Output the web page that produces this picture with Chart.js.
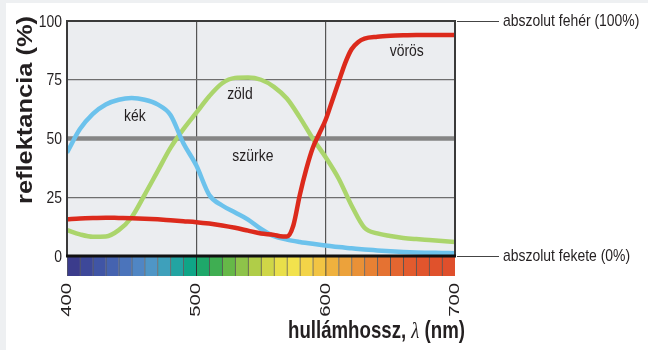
<!DOCTYPE html>
<html><head><meta charset="utf-8">
<script src="https://cdn.jsdelivr.net/npm/chart.js@4"></script>
<style>html,body{margin:0;padding:0;background:#fff}#wrap{width:648px;height:350px}</style>
</head><body><div id="wrap"><canvas id="c" width="648" height="350"></canvas></div>
<script>
// ---- data ----
const wavelengths = [400,410,420,430,440,450,460,470,480,490,500,510,520,530,540,550,560,570,580,590,600,610,620,630,640,650,660,670,680,690,700];
const blueValues  = [44,54,60.5,64.5,66.5,67.2,66.5,64.5,60,48,38.5,26,21.5,18.5,15.5,11.5,8.5,7,6,5.2,4.5,3.8,3.3,2.8,2.4,2,1.7,1.5,1.4,1.3,1.2];
const greenValues = [11,9.2,8.2,8.3,11,16.5,26,36,46,54,61,68,73.5,75.8,76,75,72,67,59,50,42,33,21.5,12,9.6,8.5,7.7,7.2,6.8,6.4,6];
const redWavelengths = [400,410,420,430,440,450,460,470,480,490,500,510,520,530,540,550,560,565,570,575,580,585,590,595,600,605,610,615,620,625,630,640,650,660,670,680,690,700];
const redValues   = [15.6,16,16.2,16.3,16.2,16.1,15.9,15.6,15.2,14.8,14.4,13.8,13,12,10.8,9.6,9,8.4,8.3,13,26,37,46,52,58,66,74,82,88,91,92.5,93.3,93.7,93.9,94,94,94,94];
const grayWavelengths = [400,700];
const grayValues = [50,50];
const spectrumStarts = [400,410,420,430,440,450,460,470,480,490,500,510,520,530,540,550,560,570,580,590,600,610,620,630,640,650,660,670,680,690];
const spectrumColors = ['#3b3c8c','#3d4899','#4055a5','#4563b0','#4b74bb','#5086c4','#4f96c6','#3ea0bb','#22a4a2','#0fa587','#1ea86a','#3fae52','#66b848','#8ec34a','#b0cd48','#cfd647','#e9df4a','#f2e24d','#f3d448','#f2c443','#efb13e','#eca23b','#e99137','#e78134','#e57232','#e46630','#e25b2e','#e1552d','#e0522c','#df4f2c'];
const xTicks = [400,500,600,700];
const yTicks = [0,25,50,75,100];
const curveNames = ['kék','zöld','szürke','vörös'];
const curveNameX = [452.5,533.7,543.7,662.7];
const curveNameY = [59.6,69,42.6,87.2];
const refNames = ['abszolut fehér (100%)','abszolut fekete (0%)'];
const refLevels = [100,0];
const xTitle = ['hullámhossz, ','λ',' (nm)'];
const yTitle = 'reflektancia (%)';

const TXT = '#231f20';
const SANS = '"Liberation Sans",Arial,sans-serif';
const pts = (xs, ys) => xs.map((v,i)=>({x:v,y:ys[i]}));

function narrowText(ctx, s, px, py, align, sx){
  ctx.save(); ctx.translate(px,py); ctx.scale(sx,1); ctx.textAlign=align; ctx.fillText(s,0,0); ctx.restore();
}

const deco = {
  id:'deco',
  beforeDraw(chart){
    const {ctx, scales:{x,y}} = chart;
    ctx.save();
    ctx.fillStyle='#eef0f2'; ctx.fillRect(0,0,chart.width,chart.height);
    ctx.fillStyle='#ffffff'; ctx.fillRect(6,3,chart.width-6,chart.height-3);
    const l=x.getPixelForValue(400), r=x.getPixelForValue(700), t=y.getPixelForValue(100), b=y.getPixelForValue(0);
    ctx.fillStyle='#ebedf0'; ctx.fillRect(l,t,r-l,b-t);
    ctx.restore();
  },
  afterDatasetsDraw(chart){
    const {ctx, scales:{x,y}} = chart;
    const l=x.getPixelForValue(400), r=x.getPixelForValue(700), t=y.getPixelForValue(100), b=y.getPixelForValue(0);
    ctx.save();
    // frame
    ctx.strokeStyle='#3a3a3a'; ctx.lineWidth=2;
    ctx.beginPath(); ctx.moveTo(l,b); ctx.lineTo(l,t); ctx.lineTo(r,t); ctx.lineTo(r,b); ctx.stroke();
    ctx.strokeStyle='#111'; ctx.lineWidth=3;
    ctx.beginPath(); ctx.moveTo(l-1,b); ctx.lineTo(r+1,b); ctx.stroke();
    // reference annotations
    ctx.strokeStyle='#444'; ctx.lineWidth=1.2;
    ctx.fillStyle=TXT; ctx.font='17px '+SANS; ctx.textBaseline='middle';
    refNames.forEach((s,i)=>{
      const py=Math.round(y.getPixelForValue(refLevels[i]))+0.5;
      ctx.beginPath(); ctx.moveTo(r+2,py); ctx.lineTo(r+44,py); ctx.stroke();
      narrowText(ctx, s, r+48, py, 'left', 0.82);
    });
    // curve names
    curveNames.forEach((s,i)=>narrowText(ctx, s, x.getPixelForValue(curveNameX[i]), y.getPixelForValue(curveNameY[i]), 'center', 0.82));
    // y tick labels
    y.ticks.forEach(tk=>narrowText(ctx, String(tk.value), l-5, y.getPixelForValue(tk.value)+1, 'right', 0.82));
    // x tick labels (rotated)
    ctx.font='15px '+SANS;
    ctx.textAlign='right'; ctx.textBaseline='middle';
    const yb = y.getPixelForValue(y.min);
    xTicks.forEach(v=>{
      ctx.save(); ctx.translate(x.getPixelForValue(v), yb+7); ctx.rotate(-Math.PI/2); ctx.scale(1.35,1);
      ctx.fillText(String(v),0,0); ctx.restore();
    });
    // x title
    const fb='bold 24px '+SANS, fi='italic 24px "Liberation Serif",serif';
    ctx.textAlign='left'; ctx.textBaseline='alphabetic';
    const fonts=[fb,fi,fb];
    let w=0; const ws=xTitle.map((s,i)=>{ctx.font=fonts[i]; const m=ctx.measureText(s).width; w+=m; return m;});
    const target=177, sx=target/w;
    ctx.save(); ctx.translate(288,338); ctx.scale(sx,1);
    let cx=0; xTitle.forEach((s,i)=>{ctx.font=fonts[i]; ctx.fillText(s,cx,0); cx+=ws[i];});
    ctx.restore();
    // y title
    ctx.font='bold 22px '+SANS;
    const yw=ctx.measureText(yTitle).width;
    ctx.save(); ctx.translate(32,110); ctx.rotate(-Math.PI/2); ctx.scale(188/yw,1);
    ctx.textAlign='center'; ctx.fillText(yTitle,0,0); ctx.restore();
    ctx.restore();
  }
};

new Chart(document.getElementById('c'), {
  type:'line',
  data:{datasets:[
    {type:'line', label:'kék', data:pts(wavelengths,blueValues), borderColor:'#6cc2ec', borderWidth:4.5, pointRadius:0, cubicInterpolationMode:'monotone', order:2},
    {type:'line', label:'zöld', data:pts(wavelengths,greenValues), borderColor:'#abd56c', borderWidth:4.5, pointRadius:0, cubicInterpolationMode:'monotone', order:3},
    {type:'line', label:'vörös', data:pts(redWavelengths,redValues), borderColor:'#dc2a1c', borderWidth:4.5, pointRadius:0, cubicInterpolationMode:'monotone', order:1},
    {type:'line', label:'szürke', data:pts(grayWavelengths,grayValues), borderColor:'#858585', borderWidth:4.5, pointRadius:0, order:10},
    {type:'bar', label:'spektrum', data:spectrumStarts.map(s=>({x:s+5,y:[-8.5,0]})), backgroundColor:spectrumColors,
      borderColor:'rgba(35,35,35,0.75)', borderWidth:{left:1,right:0,top:0,bottom:0}, borderSkipped:false,
      barPercentage:1, categoryPercentage:1, order:20}
  ]},
  options:{
    responsive:false, animation:false, devicePixelRatio:1,
    layout:{autoPadding:false, padding:{left:0,right:193,top:21,bottom:0}},
    plugins:{legend:{display:false}, tooltip:{enabled:false}},
    scales:{
      x:{type:'linear', min:400, max:700, offset:false,
        afterBuildTicks(s){s.ticks=xTicks.map(v=>({value:v}));},
        afterFit(s){s.height=74;},
        ticks:{display:false},
        border:{display:false},
        grid:{offset:false, drawTicks:false, lineWidth:1.2, color:c=>(c.tick && (c.tick.value===500||c.tick.value===600))?'#555':'rgba(0,0,0,0)'}},
      y:{type:'linear', min:-8.5, max:100,
        afterBuildTicks(s){s.ticks=yTicks.map(v=>({value:v}));},
        afterFit(s){s.width=67;},
        ticks:{display:false},
        border:{display:false},
        grid:{drawTicks:false, lineWidth:1.3, color:c=>(c.tick && (c.tick.value===25||c.tick.value===75))?'#6e6e6e':'rgba(0,0,0,0)'}}
    }
  },
  plugins:[deco]
});
</script></body></html>
